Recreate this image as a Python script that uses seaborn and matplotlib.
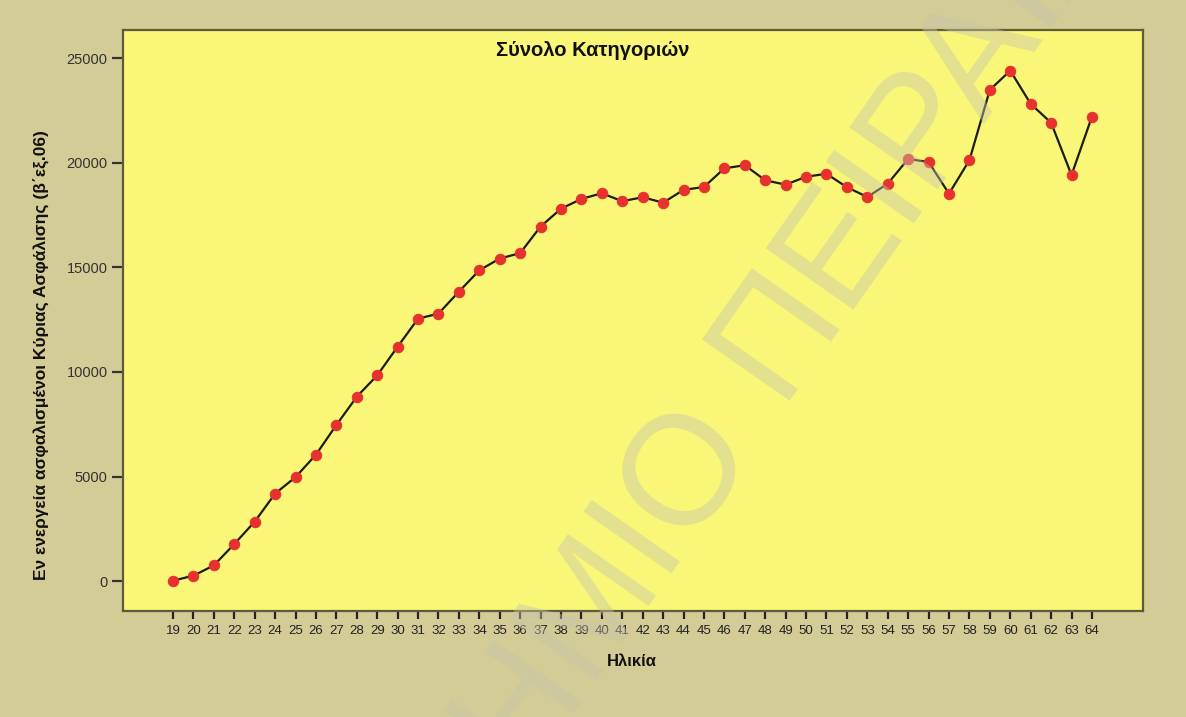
import matplotlib
matplotlib.use("Agg")
import matplotlib.pyplot as plt
import seaborn as sns

# Active insured persons of main insurance by age (2nd half of 2006)
ages = list(range(19, 65))
insured = [30, 270, 760, 1780, 2850, 4190, 4980, 6050, 7470, 8820,
           9840, 11210, 12550, 12790, 13840, 14860, 15420, 15680, 16950, 17800,
           18270, 18540, 18160, 18350, 18090, 18700, 18840, 19730, 19880, 19160,
           18950, 19330, 19470, 18830, 18360, 19000, 20180, 20030, 18520, 20120,
           23480, 24400, 22810, 21910, 19410, 22200]
y_ticks = [0, 5000, 10000, 15000, 20000, 25000]

title = "Σύνολο Κατηγοριών"
x_label = "Ηλικία"
y_label = "Εν ενεργεία ασφαλισμένοι Κύριας Ασφάλισης (β΄εξ.06)"
watermark = ("ΠΑΝΕΠΙΣΤΗΜΙΟ", "ΠΕΙΡΑΙΑ")

sns.set_style("ticks")
plt.rcParams["font.family"] = ["Liberation Sans", "DejaVu Sans"]

W, H = 1186, 717
fig = plt.figure(figsize=(W / 100, H / 100), dpi=100, facecolor="#D4CC96")
left, right, top, bottom = 123, 1143, 30, 611
ax = fig.add_axes([left / W, 1 - bottom / H, (right - left) / W, (bottom - top) / H])
ax.set_facecolor("#FAF778")

sns.lineplot(x=ages, y=insured, ax=ax, color="#1C1C10", linewidth=1.6,
             marker="o", markersize=7.5, markerfacecolor="#E5322E",
             markeredgecolor="#E5322E", zorder=3)

ax.set_xlim(16.55, 66.5)
ax.set_ylim(-1419, 26340)
ax.set_xticks(ages)
ax.set_xticklabels([str(a) for a in ages])
ax.set_yticks(y_ticks)
ax.set_yticklabels([str(v) for v in y_ticks])
ax.set_xlabel("")
ax.set_ylabel("")

for side in ("left", "right", "top", "bottom"):
    ax.spines[side].set_visible(True)
    ax.spines[side].set_color("#5E5B38")
    ax.spines[side].set_linewidth(1.6)

ax.tick_params(axis="x", direction="out", length=6, width=1.6, color="#222222",
               labelsize=9.5, labelcolor="#222222", pad=4)
ax.tick_params(axis="y", direction="out", length=8, width=1.6, color="#333333",
               labelsize=10.5, labelcolor="#333333", pad=3)

fig.text(593 / W, 1 - 50 / H, title, ha="center", va="center",
         fontsize=14.5, fontweight="bold", color="#111111")
fig.text(632 / W, 1 - 661 / H, x_label, ha="center", va="center",
         fontsize=12, fontweight="bold", color="#111111")
fig.text(42 / W, 1 - 355 / H, y_label, ha="center", va="center", rotation=90,
         fontsize=12.5, fontweight="bold", color="#111111")

# Diagonal institutional watermark laid over the whole figure
wm_style = dict(fontsize=112, rotation=55, rotation_mode="anchor",
                va="baseline", color="#C8C4AC", alpha=0.45, zorder=10,
                family=["Liberation Sans", "DejaVu Sans"])
fig.text(753 / W, 1 - 440 / H, watermark[0], ha="right", **wm_style)
fig.text(777 / W, 1 - 401 / H, watermark[1], ha="left", **wm_style)

fig.savefig("out.png", dpi=100, facecolor=fig.get_facecolor())
